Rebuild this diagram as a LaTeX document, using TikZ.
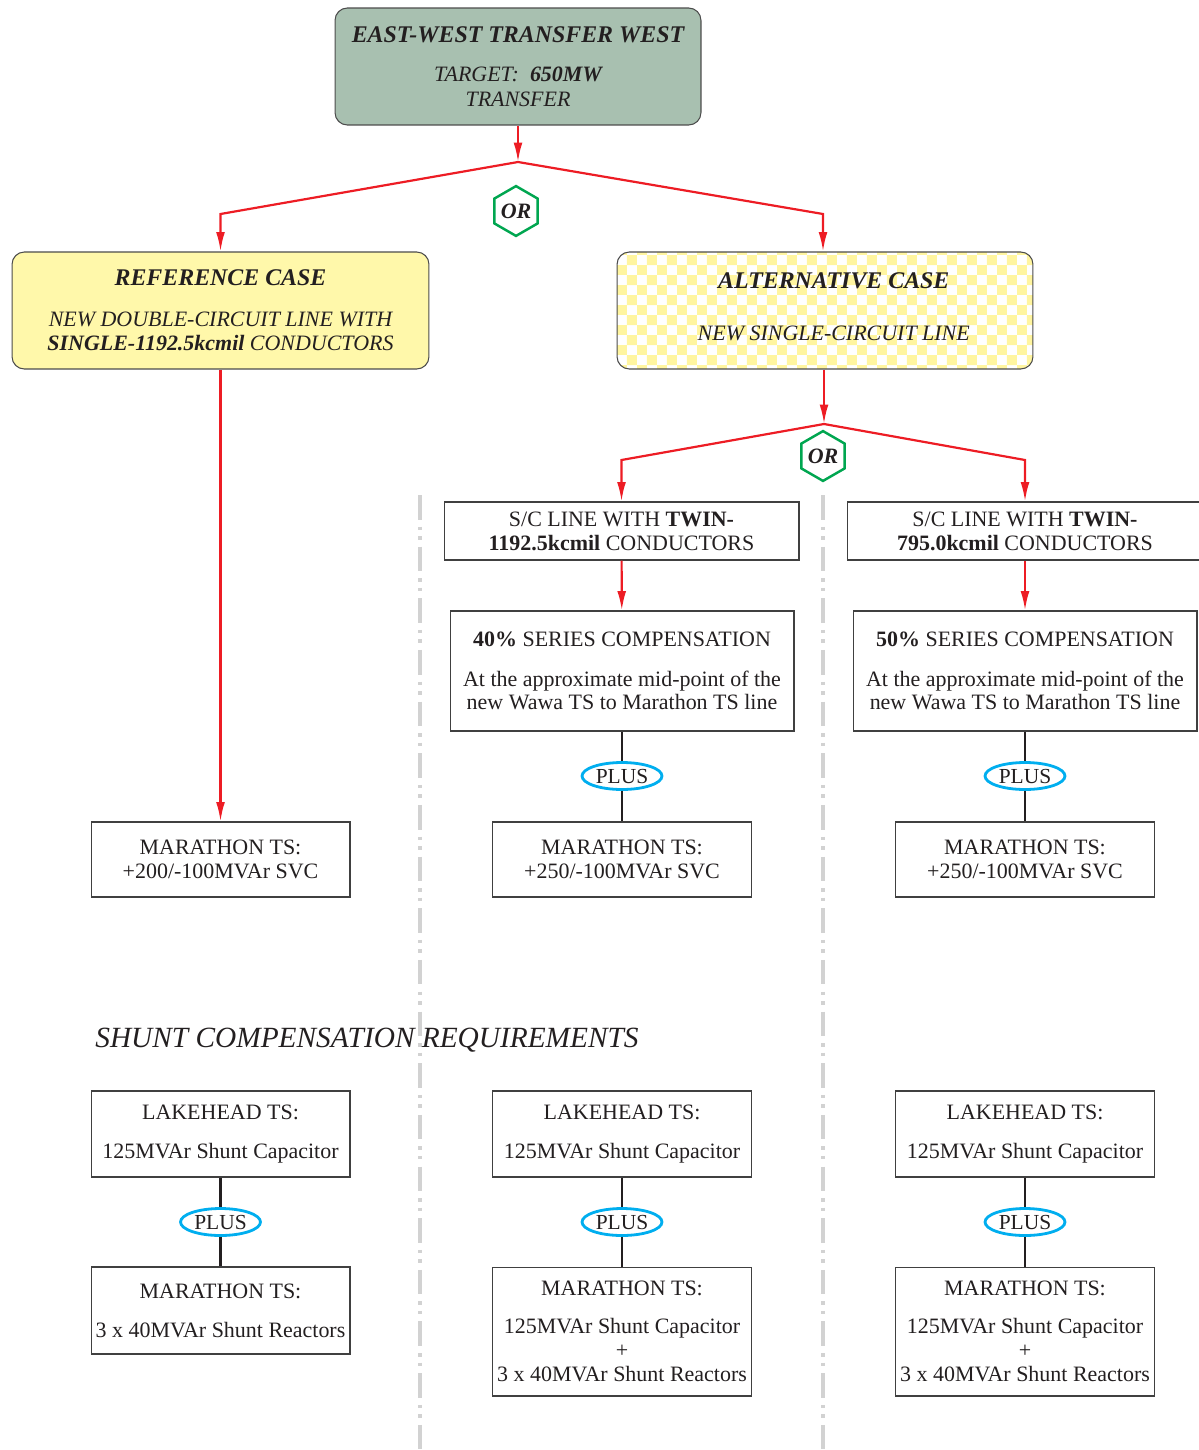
\documentclass[tikz,border=0pt]{standalone}
\usepackage{fontspec}
\setmainfont{Liberation Serif}
\usetikzlibrary{arrows.meta,shapes.geometric,patterns}

\definecolor{linered}{RGB}{237,28,36}
\definecolor{orgreen}{RGB}{0,166,80}
\definecolor{plusblue}{RGB}{0,174,239}
\definecolor{topgreen}{RGB}{168,192,176}
\definecolor{refyellow}{RGB}{255,248,170}
\definecolor{chkyellow}{RGB}{255,245,160}
\definecolor{divgray}{RGB}{210,210,210}
\definecolor{inkblack}{RGB}{35,31,32}

\pgfdeclarepatternformonly{altcheck}{\pgfpointorigin}{\pgfqpoint{11.34pt}{11.34pt}}{\pgfqpoint{11.34pt}{11.34pt}}{%
  \pgfpathrectangle{\pgfpointorigin}{\pgfqpoint{5.67pt}{5.67pt}}%
  \pgfpathrectangle{\pgfqpoint{5.67pt}{5.67pt}}{\pgfqpoint{5.67pt}{5.67pt}}%
  \pgfusepath{fill}}

\newcommand{\headsize}{\fontsize{13.6}{15}\selectfont}

\tikzset{
  casebox/.style={draw=black!70, line width=0.6pt, rounded corners=7pt, align=center, inner sep=0pt,
    minimum height=2.34cm, text=inkblack, font=\fontsize{12.5}{14}\selectfont\itshape},
  box/.style={draw=black!75, line width=0.6pt, fill=white, align=center, inner sep=0pt,
    text=inkblack, font=\fontsize{12.5}{13.6}\selectfont},
  orhex/.style={regular polygon, regular polygon sides=6, shape border rotate=30, draw=orgreen,
    line width=1.4pt, fill=white, minimum size=0.84cm, inner sep=0pt, text=inkblack,
    font=\fontsize{12.5}{14}\selectfont\bfseries\itshape},
  plus/.style={ellipse, draw=plusblue, line width=1.6pt, fill=white, minimum width=1.6cm,
    minimum height=0.54cm, inner sep=0pt, text=inkblack, font=\fontsize{12.2}{13.6}\selectfont},
  redline/.style={draw=linered, line width=1.25pt},
  redarrow/.style={redline, -{Latex[length=11pt,width=5pt]}},
  plusline/.style={draw=inkblack, line width=1.4pt},
  divider/.style={draw=divgray, line width=2.3pt, dash pattern=on 14pt off 4pt on 2pt off 3.4pt on 2pt off 4pt}
}

\begin{document}
\begin{tikzpicture}[x=0.02cm,y=-0.02cm]
	\useasboundingbox (0,0) rectangle (1198,1450);
	% dividers between the cases
	\draw[divider] (420,495) -- (420,1450);
	\draw[divider] (823,495) -- (823,1450);

	% top of the tree
	\node[casebox, fill=topgreen, minimum width=7.32cm] (target) at (518,66.5)
		{{\headsize\bfseries EAST-WEST TRANSFER WEST}\\[8.5pt] TARGET:~~\textbf{650MW}\\ TRANSFER};
	\node[casebox, fill=refyellow, minimum width=8.34cm] (refcase) at (220.5,310.5)
		{{\headsize\bfseries REFERENCE CASE}\\[9pt] NEW DOUBLE-CIRCUIT LINE WITH\\ \textbf{SINGLE-1192.5kcmil} CONDUCTORS};
	\node[casebox, pattern=altcheck, pattern color=chkyellow, minimum width=8.32cm] (altcase) at (825,310.5)
		{\hspace*{10pt}{\headsize\bfseries ALTERNATIVE CASE}\\[16pt] \hspace*{10pt}NEW SINGLE-CIRCUIT LINE\\[-9.5pt]\mbox{}};
	\node[orhex] (or1) at (516,211) {OR};
	\node[orhex] (or2) at (823,456) {OR};

	% alternative case options
	\node[box, minimum width=7.1cm, minimum height=1.16cm] (sctwin1) at (621.5,531)
		{S/C LINE WITH \textbf{TWIN-}\\ \textbf{1192.5kcmil} CONDUCTORS};
	\node[box, minimum width=7.12cm, minimum height=1.16cm] (sctwin2) at (1025,531)
		{S/C LINE WITH \textbf{TWIN-}\\ \textbf{795.0kcmil} CONDUCTORS};
	\node[box, minimum width=6.88cm, minimum height=2.4cm] (series1) at (622,671)
		{\textbf{40\%} SERIES COMPENSATION\\[9pt] At the approximate mid-point of the\\ new Wawa TS to Marathon TS line};
	\node[box, minimum width=6.88cm, minimum height=2.4cm] (series2) at (1025,671)
		{\textbf{50\%} SERIES COMPENSATION\\[9pt] At the approximate mid-point of the\\ new Wawa TS to Marathon TS line};
	\node[plus] (plus1) at (622,776) {PLUS};
	\node[plus] (plus2) at (1025,776) {PLUS};

	% SVC boxes
	\node[box, minimum width=5.18cm, minimum height=1.5cm] (svc0) at (220.5,859.5) {MARATHON TS:\\ +200/-100MVAr SVC};
	\node[box, minimum width=5.18cm, minimum height=1.5cm] (svc1) at (622,859.5) {MARATHON TS:\\ +250/-100MVAr SVC};
	\node[box, minimum width=5.18cm, minimum height=1.5cm] (svc2) at (1025,859.5) {MARATHON TS:\\ +250/-100MVAr SVC};

	\node[anchor=west, inner sep=0pt, text=inkblack, font=\fontsize{16.7}{18}\selectfont\itshape] (shunthead) at (95,1040)
		{SHUNT COMPENSATION REQUIREMENTS};

	% shunt compensation
	\node[box, minimum width=5.18cm, minimum height=1.72cm] (lake0) at (220.5,1134) {LAKEHEAD TS:\\[8.5pt] 125MVAr Shunt Capacitor};
	\node[box, minimum width=5.18cm, minimum height=1.72cm] (lake1) at (622,1134) {LAKEHEAD TS:\\[8.5pt] 125MVAr Shunt Capacitor};
	\node[box, minimum width=5.18cm, minimum height=1.72cm] (lake2) at (1025,1134) {LAKEHEAD TS:\\[8.5pt] 125MVAr Shunt Capacitor};
	\node[plus] (plus3) at (220.5,1222) {PLUS};
	\node[plus] (plus4) at (622,1222) {PLUS};
	\node[plus] (plus5) at (1025,1222) {PLUS};
	\node[box, minimum width=5.18cm, minimum height=1.74cm] (mara0) at (220.5,1310.5)
		{MARATHON TS:\\[8.5pt] 3 x 40MVAr Shunt Reactors};
	\node[box, minimum width=5.18cm, minimum height=2.58cm] (mara1) at (622,1331.5)
		{MARATHON TS:\\[8pt] 125MVAr Shunt Capacitor\\ +\\ 3 x 40MVAr Shunt Reactors};
	\node[box, minimum width=5.18cm, minimum height=2.58cm] (mara2) at (1025,1331.5)
		{MARATHON TS:\\[8pt] 125MVAr Shunt Capacitor\\ +\\ 3 x 40MVAr Shunt Reactors};

	% red tree
	\coordinate (fork1) at (518,162);
	\coordinate (fork2) at (824,424);
	\draw[redarrow] (target.south) -- (fork1);
	\draw[redarrow] (fork1) -- (refcase.north |- 0,214) -- (refcase.north);
	\draw[redarrow] (fork1) -- (823,214) -- (altcase.north -| 823,0);
	\draw[redarrow] (altcase.south -| fork2) -- (fork2);
	\draw[redarrow] (fork2) -- (sctwin1.north |- 0,460) -- (sctwin1.north);
	\draw[redarrow] (fork2) -- (sctwin2.north |- 0,460) -- (sctwin2.north);
	\draw[redarrow] (sctwin1) -- (series1);
	\draw[redarrow] (sctwin2) -- (series2);
	\draw[redarrow] (refcase) -- (svc0);

	% plus links
	\foreach \a/\p/\b in {series1/plus1/svc1, series2/plus2/svc2, lake0/plus3/mara0, lake1/plus4/mara1, lake2/plus5/mara2}{
		\draw[plusline] (\a.south) -- (\p.north);
		\draw[plusline] (\p.south) -- (\b.north);
	}
\end{tikzpicture}
\end{document}
